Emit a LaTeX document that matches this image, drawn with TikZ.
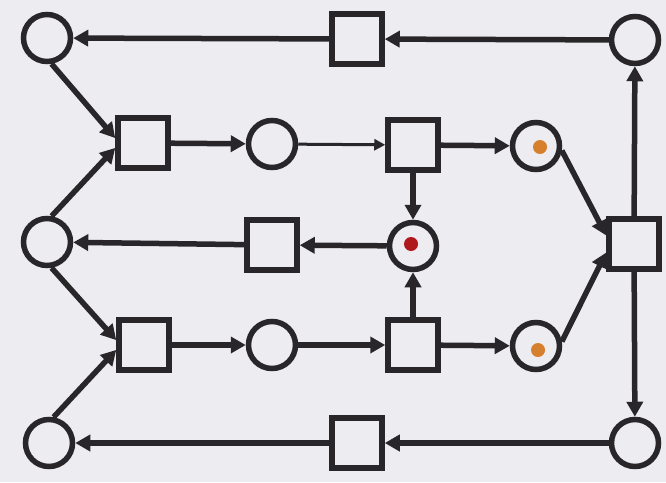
\documentclass[tikz,border=0pt]{standalone}
\usetikzlibrary{arrows.meta}
\definecolor{bg}{RGB}{236,236,241}
\definecolor{ink}{RGB}{40,38,40}
\definecolor{orangetok}{RGB}{214,128,45}
\definecolor{redtok}{RGB}{175,25,30}
\begin{document}
\begin{tikzpicture}[x=1pt,y=-1pt,
  place/.style={circle,draw=ink,line width=5.5pt,minimum size=47pt,inner sep=0pt,fill=bg},
  trans/.style={rectangle,draw=ink,line width=5.5pt,minimum size=50pt,inner sep=0pt,fill=bg},
  arc/.style={draw=ink,line width=5.5pt,-{Triangle[length=15pt,width=16pt]}},
  thinarc/.style={draw=ink,line width=3pt,-{Triangle[length=11pt,width=11pt]}},
  token/.style={circle,inner sep=0pt,minimum size=14pt}]
\fill[bg] (0,0) rectangle (666,482);
\useasboundingbox (0,0) rectangle (666,482);
% places
\node[place] (P1) at (47,38) {};
\node[place] (P2) at (635,40) {};
\node[place] (P3) at (47,242) {};
\node[place] (P4) at (49,443) {};
\node[place] (P5) at (635,443) {};
\node[place] (P6) at (272,144) {};
\node[place] (P7) at (536,146) {};
\node[place] (P8) at (413,246) {};
\node[place] (P9) at (272,345) {};
\node[place] (P10) at (536,346) {};
% transitions
\node[trans] (T1) at (357,39) {};
\node[trans] (T2) at (143,143) {};
\node[trans] (T3) at (413,145) {};
\node[trans] (T4) at (272,245) {};
\node[trans] (T5) at (634,244) {};
\node[trans] (T6) at (144,345) {};
\node[trans] (T7) at (413,345) {};
\node[trans] (T8) at (357,443) {};
% tokens
\node[token,fill=orangetok] (k1) at (540,147) {};
\node[token,fill=redtok] (k2) at (411,244) {};
\node[token,fill=orangetok] (k3) at (538,350) {};
% arcs
\draw[arc] (P2) -- (T1);
\draw[arc] (T1) -- (P1);
\draw[arc] (P1.-80) -- (T2.170);
\draw[arc] (P3.80) -- (T2.190);
\draw[arc] (P3.-80) -- (T6.170);
\draw[arc] (P4.80) -- (T6.190);
\draw[arc] (T2) -- (P6);
\draw[thinarc] (P6) -- (T3);
\draw[arc] (T3) -- (P7);
\draw[arc] (T3) -- (P8);
\draw[arc] (P8) -- (T4);
\draw[arc] (T4) -- (P3);
\draw[arc] (T6) -- (P9);
\draw[arc] (P9) -- (T7);
\draw[arc] (T7) -- (P10);
\draw[arc] (T7) -- (P8);
\draw[arc] (P7.-10) -- (T5.163);
\draw[arc] (P10.10) -- (T5.197);
\draw[arc] (T5) -- (P2);
\draw[arc] (T5) -- (P5);
\draw[arc] (P5) -- (T8);
\draw[arc] (T8) -- (P4);
\end{tikzpicture}
\end{document}
